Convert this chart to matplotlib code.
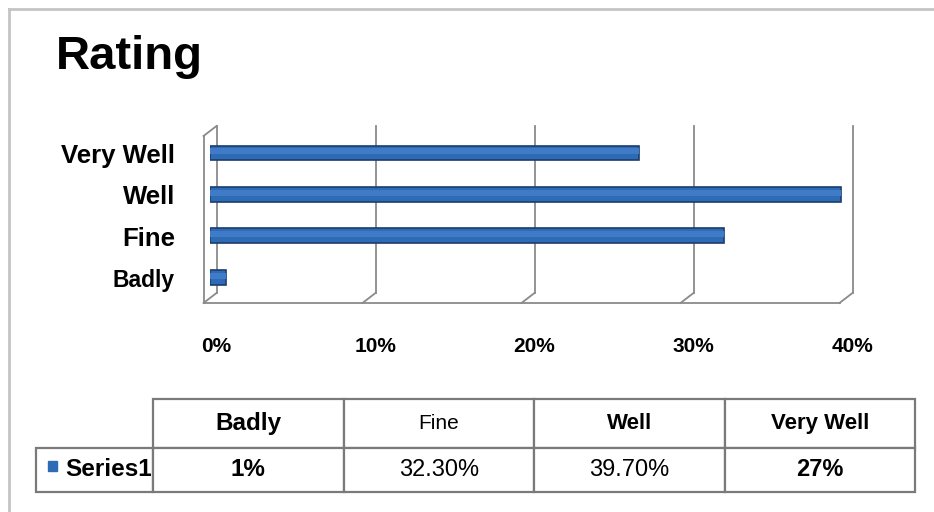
import numpy as np
import matplotlib.pyplot as plt
from matplotlib.table import Table
from matplotlib.patches import Rectangle
from matplotlib.lines import Line2D

# data
categories = ['Badly', 'Fine', 'Well', 'Very Well']
values = [1.0, 32.3, 39.7, 27.0]
value_labels = ['1%', '32.30%', '39.70%', '27%']
series_name = 'Series1'
x_ticks = [0, 10, 20, 30, 40]
x_tick_labels = ['0%', '10%', '20%', '30%', '40%']

W, H = 934, 512
FONT = ['Liberation Sans', 'DejaVu Sans']
BLUE = '#2e6bb5'
GRID = '#8a8a8a'


def fx(px):
    return px / W


def fy(py):
    return 1 - py / H


fig = plt.figure(figsize=(W / 100, H / 100), dpi=100)

# outer chart frame (top and left edges)
fig.add_artist(Line2D([fx(9), 1], [fy(9), fy(9)], color='#c4c4c4', lw=2))
fig.add_artist(Line2D([fx(9), fx(9)], [fy(9), 0], color='#c4c4c4', lw=2))

fig.text(fx(56), fy(69), 'Rating', fontsize=34, fontweight='bold',
         family=FONT, va='baseline', ha='left')

# bar area (middle depth plane)
ax = fig.add_axes([fx(210), fy(298), fx(846) - fx(210), fy(131) - fy(298)])
ax.set_xlim(0, 40)
ax.set_ylim(-0.5, 3.53)
ax.axis('off')
y0, y1 = ax.get_ylim()
px_x = 40 / 636
px_y = (y1 - y0) / 167
DX, DY = 6.5 * px_x, 5 * px_y

# 3d walls: back gridlines, floor edge, left wall
for xv in x_ticks:
    ax.plot([xv + DX, xv + DX], [y0 + DY, y1 + DY], color=GRID, lw=1.3, clip_on=False)
    ax.plot([xv + DX, xv - DX], [y0 + DY, y0 - DY], color=GRID, lw=1.3, clip_on=False)
ax.plot([-DX, 40 - DX], [y0 - DY, y0 - DY], color=GRID, lw=1.3, clip_on=False)
ax.plot([-DX, -DX], [y0 - DY, y1 - DY], color=GRID, lw=1.3, clip_on=False)
ax.plot([-DX, DX], [y1 - DY, y1 + DY], color=GRID, lw=1.3, clip_on=False)

# bars with a cylinder-like shading
ypos = np.arange(len(categories))
bar_h = 0.36
ax.barh(ypos, values, height=bar_h, color=BLUE, edgecolor='#1b3d70', lw=1.2, zorder=3)
ax.barh(ypos + bar_h * 0.1, values, height=bar_h * 0.4, color='#3f7bc6',
        lw=0, zorder=4)

# category labels
label_sizes = {'Badly': 16.5}
for y, name in zip(ypos, categories):
    ax.text(-35 * px_x, y - 3 * px_y, name, ha='right', va='center',
            fontsize=label_sizes.get(name, 18.5), fontweight='bold', family=FONT)

# value axis labels
for xv, lab in zip(x_ticks, x_tick_labels):
    ax.text(xv + DX, y0 - 49 * px_y, lab, ha='center', va='center',
            fontsize=15, fontweight='bold', family=FONT, clip_on=False)

# data table
tax = fig.add_axes([fx(36), fy(492), fx(915) - fx(36), (492 - 399) / H])
tax.axis('off')
label_w = 117 / 879
col_w = (1 - label_w) / len(categories)
head_h, data_h = 49 / 93, 44 / 93
tb = Table(tax, bbox=[label_w, 0, 1 - label_w, 1])
tb.auto_set_font_size(False)

head_fonts = {'Badly': ('bold', 17.5), 'Fine': ('normal', 15),
              'Well': ('bold', 16), 'Very Well': ('bold', 16)}
data_fonts = [('bold', 17.5), ('normal', 17), ('normal', 17), ('bold', 17)]

for c, name in enumerate(categories):
    cell = tb.add_cell(0, c, width=col_w, height=head_h, text=name, loc='center')
    wt, sz = head_fonts[name]
    cell.get_text().set(family=FONT, fontweight=wt, fontsize=sz)
for c, lab in enumerate(value_labels):
    cell = tb.add_cell(1, c, width=col_w, height=data_h, text=lab, loc='center')
    wt, sz = data_fonts[c]
    cell.get_text().set(family=FONT, fontweight=wt, fontsize=sz)
cell = tb.add_cell(1, -1, width=label_w, height=data_h, text=series_name, loc='left')
cell.PAD = 0.25
cell.get_text().set(family=FONT, fontweight='bold', fontsize=17.5)

for cell in tb.get_celld().values():
    cell.set_edgecolor('#7a7a7a')
    cell.set_linewidth(1.6)
tax.add_table(tb)

# legend key in the row label cell
tax.add_patch(Rectangle(((48 - 36) / 879, (492 - 471) / 93), 9 / 879, 10 / 93,
                        transform=tax.transAxes, color=BLUE, clip_on=False))

fig.savefig('out.png', dpi=100)
